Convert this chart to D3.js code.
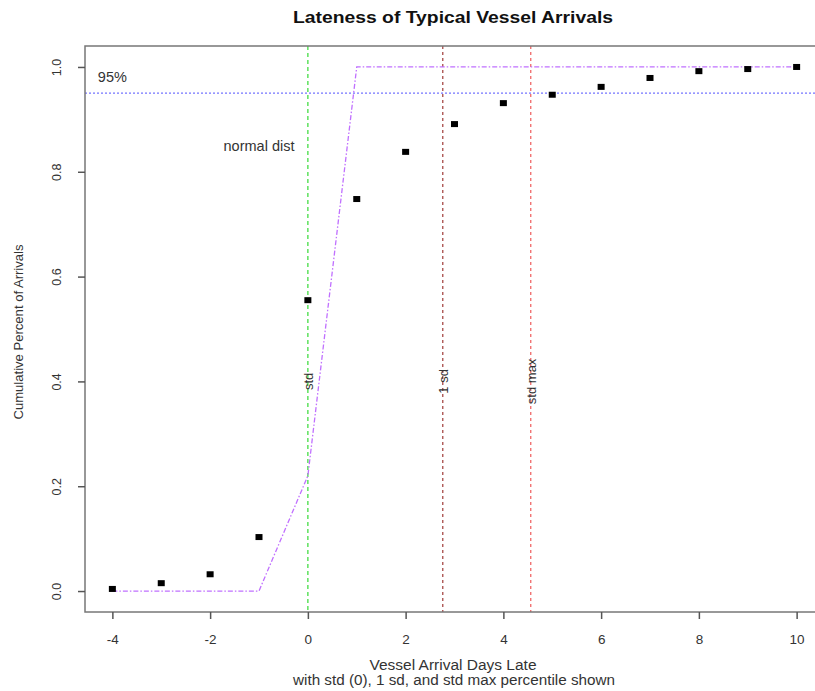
<!DOCTYPE html>
<html>
<head>
<meta charset="utf-8">
<script src="https://cdn.jsdelivr.net/npm/d3@7"></script>
<style>
  body { margin: 0; background: #fff; }
  svg { font-family: 'Liberation Sans', Arial, sans-serif; }
</style>
</head>
<body>
<svg id="chart" width="815" height="691"></svg>
<script>
// days late, observed cumulative share, normal dist curve
const days = [-4, -3, -2, -1, 0, 1, 2, 3, 4, 5, 6, 7, 8, 9, 10]
const cumPct = [0.004, 0.015, 0.032, 0.103, 0.555, 0.748, 0.838, 0.891, 0.931, 0.947, 0.962, 0.979, 0.992, 0.996, 1.0]
const normalPct = [0, 0, 0, 0, 0.22, 1, 1, 1, 1, 1, 1, 1, 1, 1, 1]
const xTicks = [-4, -2, 0, 2, 4, 6, 8, 10]
const yTicks = [0, 0.2, 0.4, 0.6, 0.8, 1.0]
// vertical reference lines
const refLines = [
  { x: 0, label: 'std', color: '#44dd44', dash: '4,3' },
  { x: 2.76, label: '1 sd', color: '#a84a48', dash: '3,3' },
  { x: 4.56, label: 'std max', color: '#f06868', dash: '3,3' }
]

const svg = d3.select('#chart')
const margin = { top: 46, left: 85, bottom: 612, right: 824 }

const x = d3.scaleLinear().domain([-4.56, 10.56]).range([margin.left, margin.right])
const y = d3.scaleLinear().domain([-0.04, 1.04]).range([margin.bottom, margin.top])

// Title
svg.append('text')
  .attr('x', 453)
  .attr('y', 23)
  .attr('text-anchor', 'middle')
  .attr('font-size', 16.5)
  .attr('font-weight', 'bold')
  .attr('fill', '#111')
  .attr('textLength', 320)
  .attr('lengthAdjust', 'spacingAndGlyphs')
  .text('Lateness of Typical Vessel Arrivals')

// 95% line
svg.append('line')
  .attr('x1', margin.left).attr('x2', margin.right)
  .attr('y1', y(0.95)).attr('y2', y(0.95))
  .attr('stroke', '#7474ff')
  .attr('stroke-width', 1.3)
  .attr('stroke-dasharray', '2,2')

// Vertical reference lines
refLines.forEach(function (r) {
  svg.append('line')
    .attr('x1', x(r.x)).attr('x2', x(r.x))
    .attr('y1', margin.top).attr('y2', margin.bottom)
    .attr('stroke', r.color)
    .attr('stroke-width', 1.3)
    .attr('stroke-dasharray', r.dash)
  svg.append('text')
    .attr('transform', 'translate(' + (x(r.x) + 5) + ',' + y(0.4) + ') rotate(-90)')
    .attr('text-anchor', 'middle')
    .attr('font-size', 13)
    .attr('fill', '#333')
    .text(r.label)
})

// Normal distribution line
const line = d3.line()
  .x(function (d, i) { return x(days[i]) })
  .y(function (d) { return y(d) })

svg.append('path')
  .datum(normalPct)
  .attr('d', line)
  .attr('fill', 'none')
  .attr('stroke', '#c070ff')
  .attr('stroke-width', 1.3)
  .attr('stroke-dasharray', '5,2,1.5,2')

// Points
svg.append('g')
  .selectAll('rect')
  .data(cumPct)
  .enter().append('rect')
  .attr('x', function (d, i) { return x(days[i]) - 3.5 })
  .attr('y', function (d) { return y(d) - 3 })
  .attr('width', 7)
  .attr('height', 6)
  .attr('fill', '#000')

// Annotations
svg.append('text')
  .attr('x', x(-4)).attr('y', y(0.98) + 5)
  .attr('text-anchor', 'middle')
  .attr('font-size', 14.5)
  .attr('fill', '#333')
  .text('95%')

svg.append('text')
  .attr('x', x(-1)).attr('y', y(0.85) + 5)
  .attr('text-anchor', 'middle')
  .attr('font-size', 14.5)
  .attr('fill', '#333')
  .text('normal dist')

// Box
svg.append('rect')
  .attr('x', margin.left).attr('y', margin.top)
  .attr('width', margin.right - margin.left)
  .attr('height', margin.bottom - margin.top)
  .attr('fill', 'none')
  .attr('stroke', '#777')
  .attr('stroke-width', 1.5)

// X axis
const xAxis = svg.append('g')
  .attr('transform', 'translate(0,' + margin.bottom + ')')
  .call(d3.axisBottom(x).tickValues(xTicks).tickSize(7).tickPadding(15)
    .tickFormat(function (d) { return String(d) }))
xAxis.select('.domain').remove()
xAxis.selectAll('line').attr('stroke', '#555').attr('stroke-width', 1.5)
xAxis.selectAll('text').attr('font-size', 13.5).attr('fill', '#333').attr('font-family', 'Liberation Sans, Arial, sans-serif')

// Y axis
const yAxis = svg.append('g')
  .attr('transform', 'translate(' + margin.left + ',0)')
  .call(d3.axisLeft(y).tickValues(yTicks).tickSize(7).tickFormat(d3.format('.1f')))
yAxis.select('.domain').remove()
yAxis.selectAll('line').attr('stroke', '#555').attr('stroke-width', 1.5)
yAxis.selectAll('text')
  .attr('font-size', 12.5).attr('fill', '#333')
  .attr('font-family', 'Liberation Sans, Arial, sans-serif')
  .attr('text-anchor', 'middle')
  .attr('x', null).attr('dy', null)
  .attr('transform', function () { return 'translate(-28,0) rotate(-90) translate(0,4)' })

// Axis titles
svg.append('text')
  .attr('x', 453)
  .attr('y', 670)
  .attr('text-anchor', 'middle')
  .attr('font-size', 14)
  .attr('fill', '#333')
  .attr('textLength', 167)
  .attr('lengthAdjust', 'spacingAndGlyphs')
  .text('Vessel Arrival Days Late')
svg.append('text')
  .attr('x', 454)
  .attr('y', 685)
  .attr('text-anchor', 'middle')
  .attr('font-size', 14)
  .attr('fill', '#333')
  .attr('textLength', 322)
  .attr('lengthAdjust', 'spacingAndGlyphs')
  .text('with std (0), 1 sd, and std max percentile shown')

svg.append('text')
  .attr('transform', 'translate(23,332) rotate(-90)')
  .attr('text-anchor', 'middle')
  .attr('font-size', 13)
  .attr('fill', '#333')
  .attr('textLength', 175)
  .attr('lengthAdjust', 'spacingAndGlyphs')
  .text('Cumulative Percent of Arrivals')
</script>
</body>
</html>
